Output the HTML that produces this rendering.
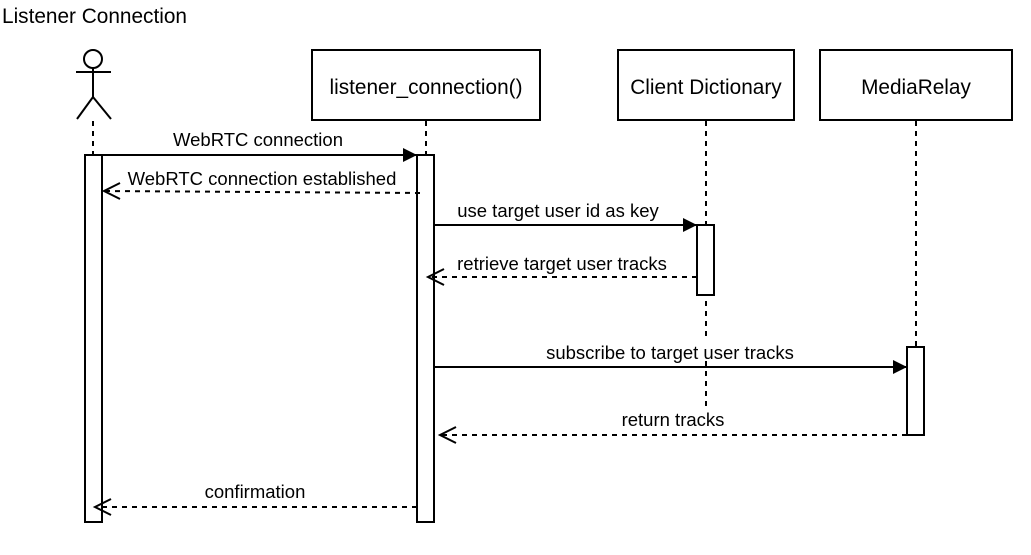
<!DOCTYPE html>
<html><head><meta charset="utf-8"><style>
html,body{margin:0;padding:0;background:#fff;}
svg{display:block;}
text{font-family:"Liberation Sans",Arial,sans-serif;fill:#000;}
</style></head><body>
<svg width="1031" height="555" viewBox="0 0 1031 555" xmlns="http://www.w3.org/2000/svg">
<defs>
<marker id="f" markerWidth="14" markerHeight="14" refX="14" refY="7" orient="auto" markerUnits="userSpaceOnUse"><path d="M0,0 L14,7 L0,14 Z" fill="#000"/></marker>
</defs>
<text x="2" y="23" font-size="20.8">Listener Connection</text>
<g stroke="#000" stroke-width="2" fill="none">
<circle cx="93" cy="59" r="9" fill="#fff"/>
<line x1="93" y1="68" x2="93" y2="97"/>
<line x1="76" y1="72" x2="111" y2="72"/>
<line x1="93" y1="97" x2="77" y2="119"/>
<line x1="93" y1="97" x2="111" y2="119"/>
</g>
<g stroke="#000" stroke-width="2" fill="none" stroke-dasharray="5,5">
<line x1="93" y1="121" x2="93" y2="155"/>
<line x1="426" y1="121" x2="426" y2="155"/>
<line x1="706" y1="121" x2="706" y2="408"/>
<line x1="916" y1="121" x2="916" y2="347"/>
</g>
<g stroke="#000" stroke-width="2" fill="#fff">
<rect x="312" y="50" width="228" height="70"/>
<rect x="618" y="50" width="176" height="70"/>
<rect x="820" y="50" width="192" height="70"/>
<rect x="85" y="155" width="17" height="367"/>
<rect x="417" y="155" width="17" height="367"/>
<rect x="697" y="225" width="17" height="70"/>
<rect x="907" y="347" width="17" height="88"/>
</g>
<g font-size="20.8" text-anchor="middle">
<text x="426" y="94">listener_connection()</text>
<text x="706" y="94">Client Dictionary</text>
<text x="916" y="94">MediaRelay</text>
</g>
<g stroke="#000" stroke-width="2" fill="none">
<line x1="85" y1="155" x2="417" y2="155" marker-end="url(#f)"/>
<line x1="434" y1="225" x2="697" y2="225" marker-end="url(#f)"/>
<line x1="433" y1="367" x2="907" y2="367" marker-end="url(#f)"/>
<g stroke-dasharray="5,5">
<line x1="420" y1="193" x2="104" y2="191"/>
<line x1="697" y1="277" x2="428" y2="277"/>
<line x1="907" y1="435" x2="440" y2="435"/>
<line x1="417" y1="507" x2="95" y2="507"/>
</g>
<path d="M120,183 L104,191 L120,199"/>
<path d="M444,269 L428,277 L444,285"/>
<path d="M456,427 L440,435 L456,443"/>
<path d="M111,499 L95,507 L111,515"/>
</g>
<rect x="540" y="339" width="262" height="22" fill="#fff"/>
<g font-size="18.5" text-anchor="middle">
<text x="258" y="146">WebRTC connection</text>
<text x="262" y="185">WebRTC connection established</text>
<text x="558" y="217">use target user id as key</text>
<text x="562" y="270">retrieve target user tracks</text>
<text x="670" y="359">subscribe to target user tracks</text>
<text x="673" y="426">return tracks</text>
<text x="255" y="498">confirmation</text>
</g>
</svg>
</body></html>
